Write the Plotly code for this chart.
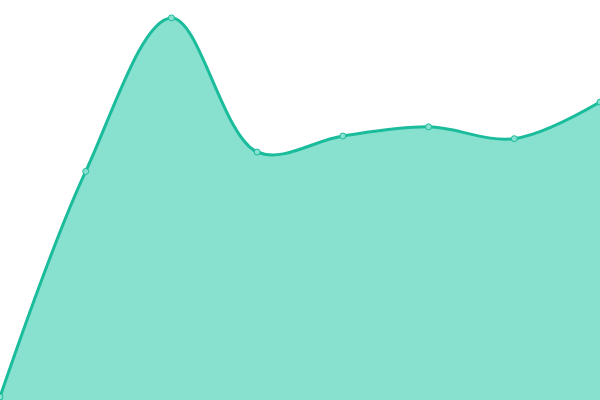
import plotly.graph_objects as go

# 数据
x_values = [0, 1, 2, 3, 4, 5, 6, 7]
y_values = [0.8, 60, 100.3, 65.1, 69.3, 71.7, 68.6, 78.2]

line_color = "#1abc9c"
fill_color = "#88e0cf"

fig = go.Figure()
fig.add_trace(go.Scatter(
    x=x_values, y=y_values,
    mode="lines+markers",
    line=dict(color=line_color, width=3, shape="spline", smoothing=1),
    marker=dict(size=6, color=fill_color, line=dict(color=line_color, width=1)),
    fill="tozeroy",
    fillcolor=fill_color,
    hoverinfo="skip",
    cliponaxis=False,
))

# 去掉坐标轴和边距
fig.update_layout(
    width=600, height=400,
    margin=dict(l=0, r=0, t=0, b=0),
    paper_bgcolor="white", plot_bgcolor="white",
    showlegend=False,
    xaxis=dict(visible=False, range=[0, 7], fixedrange=True),
    yaxis=dict(visible=False, range=[0, 105], fixedrange=True),
)

# 页面本身的边距去掉,图从左上角开始
fig.write_html("out.html", config={"displayModeBar": False},
               post_script="document.body.style.margin='0';document.body.style.overflow='hidden';")
